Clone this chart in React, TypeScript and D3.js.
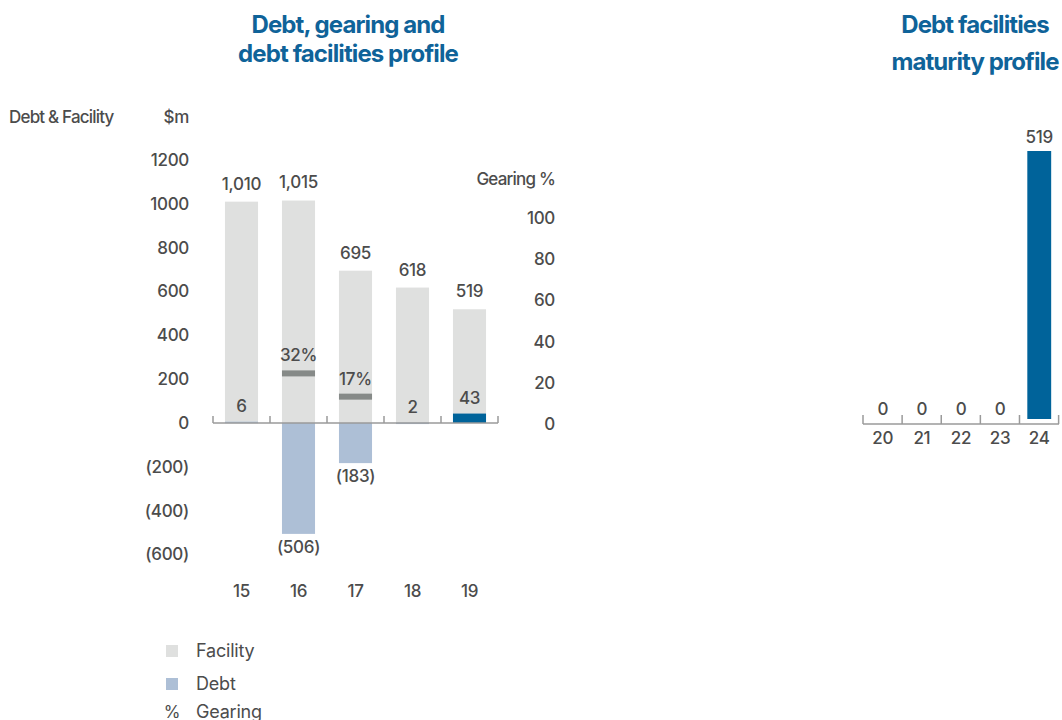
import * as d3 from "d3";

// Left chart: debt, gearing and facilities
const years = ["15", "16", "17", "18", "19"];
const facility = [1010, 1015, 695, 618, 519];
const debt = [6, -506, -183, 2, 43];
const gearing: (number | null)[] = [null, 32, 17, null, null];
const leftTicks = [1200, 1000, 800, 600, 400, 200, 0, -200, -400, -600];
const gearingTicks = [0, 20, 40, 60, 80, 100];

// Right chart: maturity profile
const maturityYears = ["20", "21", "22", "23", "24"];
const maturity = [0, 0, 0, 0, 519];

const legendItems = [
  { label: "Facility", kind: "facility" },
  { label: "Debt", kind: "debt" },
  { label: "Gearing", kind: "gearing" },
];

const FONT = "Inter, 'Noto Sans', sans-serif";
const TEXT = "#4c4c4c";
const TITLE = "#0f6399";
const FACILITY = "#dfe0df";
const DEBT = "#adbfd6";
const DEBT_NOW = "#00639a";
const GEARING = "#868a88";
const AXIS = "#9a9a9a";

const fmt = (v: number) => (v < 0 ? `(${d3.format(",")(-v)})` : d3.format(",")(v));

export default function App() {
  const zeroY = 423;
  const y = d3.scaleLinear().domain([-600, 1200]).range([554.5, 160]);
  const yG = d3.scaleLinear().domain([0, 100]).range([424, 218]);
  const yMark = d3.scaleLinear().domain([0, 100]).range([zeroY, zeroY - 155]);
  const x = d3.scaleBand<string>().domain(years).range([213, 498]).paddingInner(0.42).paddingOuter(0.21);

  const xm = d3.scaleBand<string>().domain(maturityYears).range([863, 1059]).paddingInner(0.39).paddingOuter(0.2);
  const ym = d3.scaleLinear().domain([0, 519]).range([419, 151]);
  const mAxisY = 424;

  const tickEdges = (sc: d3.ScaleBand<string>) => {
    const step = sc.step();
    const [r0, r1] = sc.range();
    return d3.range(sc.domain().length + 1).map((i) => Math.min(r0 + i * step, r1));
  };

  const txt = { fontFamily: FONT, fill: TEXT, letterSpacing: -0.3, fontWeight: 500 } as const;
  const title = { fontFamily: FONT, fontWeight: 700, fontSize: 24, fill: TITLE, letterSpacing: -0.9, textAnchor: "middle" } as const;

  return (
    <svg width={1062} height={720} style={{ position: "absolute", left: 0, top: 0, background: "#fff" }}>
      {/* Titles */}
      <text x={348} y={33} {...title}>Debt, gearing and</text>
      <text x={348} y={62} {...title}>debt facilities profile</text>
      <text x={975} y={33} {...title}>Debt facilities</text>
      <text x={975} y={70} {...title}>maturity profile</text>

      {/* Axis titles */}
      <text x={9} y={123} fontSize={17} {...txt} letterSpacing={-0.8}>Debt &amp; Facility</text>
      <text x={189} y={123} fontSize={17} textAnchor="end" {...txt}>$m</text>
      <text x={555} y={185} fontSize={17} textAnchor="end" {...txt} letterSpacing={-0.8}>Gearing %</text>

      {/* Left axis ticks */}
      {leftTicks.map((t) => (
        <text key={t} x={189} y={y(t)} dy="0.35em" fontSize={17} textAnchor="end" {...txt}>
          {t < 0 ? `(${-t})` : t}
        </text>
      ))}
      {gearingTicks.map((t) => (
        <text key={t} x={555} y={yG(t)} dy="0.35em" fontSize={17} textAnchor="end" {...txt}>
          {t}
        </text>
      ))}

      {/* Facility bars */}
      {years.map((yr, i) => (
        <g key={yr}>
          <rect x={x(yr)} y={y(facility[i])} width={x.bandwidth()} height={y(0) - y(facility[i])} fill={FACILITY} />
          <text x={x(yr)! + x.bandwidth() / 2} y={y(facility[i]) - 18} dy="0.35em" fontSize={17} textAnchor="middle" {...txt}>
            {fmt(facility[i])}
          </text>
        </g>
      ))}

      {/* Debt bars */}
      {years.map((yr, i) => {
        const v = debt[i];
        const top = Math.min(y(v), y(0));
        const h = Math.abs(y(v) - y(0));
        return (
          <g key={yr}>
            <rect x={x(yr)} y={top} width={x.bandwidth()} height={Math.max(h, 1.5)} fill={i === years.length - 1 ? DEBT_NOW : DEBT} />
            <text
              x={x(yr)! + x.bandwidth() / 2}
              y={v >= 0 ? y(v) - 16 : y(v) + 13}
              dy="0.35em"
              fontSize={17}
              textAnchor="middle"
              {...txt}
            >
              {fmt(v)}
            </text>
          </g>
        );
      })}

      {/* Gearing markers */}
      {years.map((yr, i) =>
        gearing[i] == null ? null : (
          <g key={yr}>
            <rect x={x(yr)} y={yMark(gearing[i]!) - 3} width={x.bandwidth()} height={6} fill={GEARING} />
            <text x={x(yr)! + x.bandwidth() / 2} y={yMark(gearing[i]!) - 18} dy="0.35em" fontSize={17} textAnchor="middle" {...txt}>
              {gearing[i]}%
            </text>
          </g>
        )
      )}

      {/* Left baseline */}
      <line x1={213} x2={498} y1={zeroY} y2={zeroY} stroke={AXIS} strokeWidth={1.5} />
      {tickEdges(x).map((t, i) => (
        <line key={i} x1={t} x2={t} y1={zeroY} y2={zeroY - 7} stroke={AXIS} strokeWidth={1.5} />
      ))}
      {years.map((yr) => (
        <text key={yr} x={x(yr)! + x.bandwidth() / 2} y={591} dy="0.35em" fontSize={17} textAnchor="middle" {...txt}>
          {yr}
        </text>
      ))}

      {/* Legend */}
      {legendItems.map((it, i) => {
        const cy = [651, 684, 712][i];
        return (
          <g key={it.label}>
            {it.kind === "gearing" ? (
              <text x={172} y={cy} dy="0.35em" fontSize={17} textAnchor="middle" {...txt} fontWeight={400}>%</text>
            ) : (
              <rect x={166} y={cy - 6} width={12} height={12} fill={it.kind === "facility" ? FACILITY : DEBT} />
            )}
            <text x={196} y={cy} dy="0.35em" fontSize={18} {...txt} fontWeight={400} letterSpacing={-0.2}>
              {it.label}
            </text>
          </g>
        );
      })}

      {/* Right chart */}
      {maturityYears.map((yr, i) => (
        <g key={yr}>
          {maturity[i] > 0 && (
            <rect x={xm(yr)} y={ym(maturity[i])} width={xm.bandwidth()} height={ym(0) - ym(maturity[i])} fill={DEBT_NOW} />
          )}
          <text x={xm(yr)! + xm.bandwidth() / 2} y={ym(maturity[i]) - (maturity[i] > 0 ? 14 : 10)} dy="0.35em" fontSize={17} textAnchor="middle" {...txt}>
            {maturity[i]}
          </text>
          <text x={xm(yr)! + xm.bandwidth() / 2} y={438} dy="0.35em" fontSize={17} textAnchor="middle" {...txt}>
            {yr}
          </text>
        </g>
      ))}
      <line x1={863} x2={1059} y1={mAxisY} y2={mAxisY} stroke={AXIS} strokeWidth={1.5} />
      {tickEdges(xm).map((t, i) => (
        <line key={i} x1={t} x2={t} y1={mAxisY} y2={mAxisY - 9} stroke={AXIS} strokeWidth={1.5} />
      ))}
    </svg>
  );
}
